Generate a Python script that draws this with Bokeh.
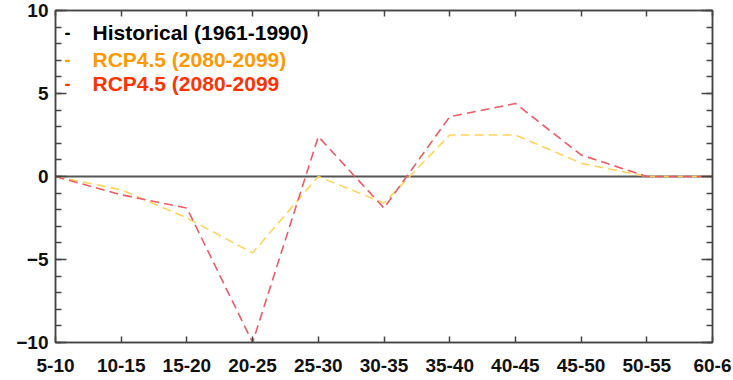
from bokeh.plotting import figure
from bokeh.embed import file_html
from bokeh.resources import INLINE
from bokeh.models import (LinearAxis, FixedTicker, SingleIntervalTicker, Range1d, Label)

categories = ["5-10", "10-15", "15-20", "20-25", "25-30", "30-35",
              "35-40", "40-45", "45-50", "50-55", "60-6"]
historical = [0, 0, 0, 0, 0, 0, 0, 0, 0, 0, 0]
rcp45_a = [0, -0.8, -2.5, -4.6, 0.0, -1.6, 2.5, 2.5, 0.8, 0, 0]
rcp45_b = [0, -1.1, -1.9, -10.0, 2.4, -1.9, 3.6, 4.4, 1.3, 0, 0]
legend_labels = ["Historical (1961-1990)", "RCP4.5 (2080-2099)", "RCP4.5 (2080-2099"]
legend_colors = ["#000000", "#FF9900", "#FF3300"]

xs = list(range(len(categories)))

W, H = 733, 380
FL, FT, FR, FB = 55, 10, 712, 342   # desired frame edges in canvas px

p = figure(width=W, height=H, output_backend="svg", toolbar_location=None,
           x_range=Range1d(0, len(categories) - 1), y_range=Range1d(-10, 10),
           min_border_left=FL, min_border_right=W - FR, min_border_top=FT,
           min_border_bottom=H - FB, background_fill_color="white",
           border_fill_color="white", outline_line_color="#444444",
           outline_line_width=1.5)
p.xgrid.visible = False
p.ygrid.visible = False

FONT = "Liberation Sans"

xa = p.xaxis[0]
xa.ticker = FixedTicker(ticks=xs)
xa.major_label_overrides = {i: c for i, c in enumerate(categories)}
xa.major_label_text_font = FONT
xa.major_label_text_font_style = "bold"
xa.major_label_text_font_size = "19px"
xa.major_label_text_color = "#111111"
xa.major_label_standoff = 16
xa.major_tick_in = 6
xa.major_tick_out = 0
xa.minor_tick_in = 0
xa.minor_tick_out = 0
xa.axis_line_color = "#444444"
xa.axis_line_width = 1.5
xa.major_tick_line_color = "#444444"
xa.major_tick_line_width = 1.5

ya = p.yaxis[0]
ya.ticker = SingleIntervalTicker(interval=5, num_minor_ticks=5)
ya.major_label_text_font = FONT
ya.major_label_text_font_style = "bold"
ya.major_label_text_font_size = "19px"
ya.major_label_text_color = "#111111"
ya.major_label_standoff = 7
ya.major_tick_in = 11
ya.major_tick_out = 0
ya.minor_tick_in = 6
ya.minor_tick_out = 0
ya.axis_line_color = "#444444"
ya.axis_line_width = 1.5
ya.major_tick_line_color = "#444444"
ya.minor_tick_line_color = "#444444"
ya.major_tick_line_width = 1.5
ya.minor_tick_line_width = 1.5

ra = LinearAxis(ticker=SingleIntervalTicker(interval=5, num_minor_ticks=5),
                major_label_text_alpha=0, major_label_text_font_size="1px",
                major_tick_in=11, major_tick_out=0, minor_tick_in=6, minor_tick_out=0,
                axis_line_color="#444444", axis_line_width=1.5,
                major_tick_line_color="#444444", minor_tick_line_color="#444444",
                major_tick_line_width=1.5, minor_tick_line_width=1.5,
                major_label_standoff=0)
p.add_layout(ra, "right")

ta = LinearAxis(ticker=FixedTicker(ticks=xs),
                major_label_text_alpha=0, major_label_text_font_size="1px",
                major_tick_in=6, major_tick_out=0, minor_tick_in=0, minor_tick_out=0,
                axis_line_color="#444444", axis_line_width=1.5,
                major_tick_line_color="#444444", major_tick_line_width=1.5,
                major_label_standoff=0)
p.add_layout(ta, "above")

p.line(xs, historical, line_color="#555555", line_width=2)
p.line(xs, rcp45_a, line_color="#FFD45E", line_width=1.6, line_dash="9 5")
p.line(xs, rcp45_b, line_color="#EE5A66", line_width=1.6, line_dash="9 5")

# legend rows; screen units are relative to the frame's bottom-left corner
rows_y = [32, 59, 83]
for lab, col, yy in zip(legend_labels, legend_colors, rows_y):
    sy = FB - yy
    p.add_layout(Label(x=67 - FL, y=sy, x_units="screen", y_units="screen",
                       text="-", text_color=col, text_font=FONT,
                       text_font_style="bold", text_font_size="18px",
                       text_align="center", text_baseline="middle"))
    p.add_layout(Label(x=92 - FL, y=sy, x_units="screen", y_units="screen",
                       text=lab, text_color=col, text_font=FONT,
                       text_font_style="bold", text_font_size="21px",
                       text_baseline="middle"))

open("out.html", "w").write(file_html(p, INLINE))
